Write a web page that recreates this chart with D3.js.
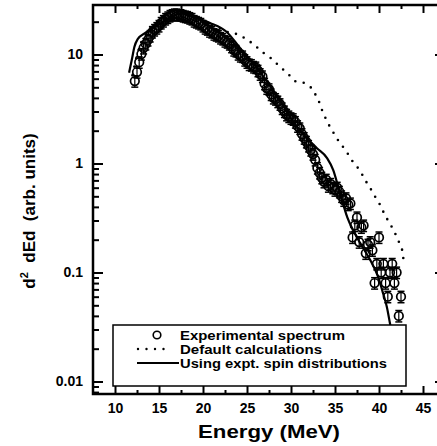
<!DOCTYPE html>
<html>
<head>
<meta charset="utf-8">
<script src="https://cdn.jsdelivr.net/npm/d3@7/dist/d3.min.js"></script>
<style>
  body { margin: 0; background: #fff; }
  text { font-family: "Liberation Sans", Arial, sans-serif; font-weight: bold; fill: #000; }
</style>
</head>
<body>
<div id="chart"></div>
<script>
// experimental spectrum (energy in MeV, yield in arb. units)
const expE = [
  12.25, 12.5, 12.75, 13, 13.25, 13.5, 13.75, 14, 14.25, 14.5, 14.75, 15,
  15.25, 15.5, 15.75, 16, 16.25, 16.5, 16.75, 17, 17.25, 17.5, 17.75, 18,
  18.25, 18.5, 18.75, 19, 19.25, 19.5, 19.75, 20, 20.25, 20.5, 20.75, 21,
  21.25, 21.5, 21.75, 22, 22.25, 22.5, 22.75, 23, 23.25, 23.5, 23.75, 24,
  24.25, 24.5, 24.75, 25, 25.25, 25.5, 25.75, 26, 26.25, 26.5, 26.75, 27,
  27.25, 27.5, 27.75, 28, 28.25, 28.5, 28.75, 29, 29.25, 29.5, 29.75, 30,
  30.25, 30.5, 30.75, 31, 31.25, 31.5, 31.75, 32, 32.25, 32.5, 32.75, 33,
  33.25, 33.5, 33.75, 34, 34.25, 34.5, 34.75, 35, 35.25, 35.5, 35.75, 36,
  36.25, 36.5, 36.75, 37, 37.25, 37.5, 37.75, 38, 38.25, 38.5, 38.75, 39,
  39.25, 39.5, 39.75, 40, 40.25, 40.5, 40.75, 41, 41.25, 41.5, 41.75, 42,
  42.25, 42.5
];
const expV = [
  5.7, 6.9, 8.5, 10.1, 11.5, 12.5, 13.6, 14.8, 16.1, 16.8, 17.5, 18.3,
  19.5, 20.3, 21.2, 21.9, 22.6, 23.0, 23.3, 23.3, 23.0, 23.0, 22.6, 22.3,
  22.1, 21.6, 21.2, 20.3, 19.9, 19.5, 19.1, 18.3, 17.5, 17.1, 16.4, 16.1,
  15.4, 15.1, 14.8, 14.2, 13.9, 13.3, 13.0, 12.5, 11.8, 11.0, 10.8, 10.1,
  9.7, 9.6, 8.9, 8.5, 8.1, 8.0, 7.7, 7.6, 7.1, 6.6, 6.3, 5.4,
  4.9, 4.8, 4.3, 4.0, 3.9, 3.7, 3.5, 3.2, 3.0, 2.8, 2.7, 2.6,
  2.55, 2.4, 2.2, 2.1, 1.86, 1.71, 1.58, 1.45, 1.33, 1.22, 1.08, 0.91,
  0.82, 0.74, 0.68, 0.71, 0.62, 0.65, 0.60, 0.57, 0.60, 0.55, 0.50, 0.46,
  0.48, 0.42, 0.43, 0.21, 0.27, 0.32, 0.19, 0.26, 0.27, 0.15, 0.18, 0.19,
  0.16, 0.08, 0.12, 0.21, 0.10, 0.12, 0.08, 0.06, 0.10, 0.12, 0.08, 0.10,
  0.04, 0.06
];
const expErr = 0.12; // relative error shown on each point

// default calculations
const defE = [12, 12.5, 13, 14, 15, 16, 17, 18, 19, 20, 21, 22, 22.73, 23.86, 24.94,
  25.85, 26.76, 27.84, 28.75, 29.55, 30.45, 31.48, 32.39, 32.84, 33.18, 33.52, 33.86,
  34.32, 34.77, 35.34, 35.91, 36.48, 37.05, 37.61, 38.18, 38.64, 39.2, 39.66, 40.11,
  40.57, 41.02, 41.48, 41.93, 42.27, 42.61, 42.73, 42.95];
const defV = [6.5, 10, 13, 17.5, 20.5, 22.5, 23.5, 23.5, 22.5, 20.5, 18.8, 17.2, 16.1, 15.4, 13.9,
  12.2, 10.5, 9.1, 7.7, 6.8, 5.7, 5.5, 4.9, 4.2, 3.7, 3.1, 2.67,
  2.25, 1.95, 1.64, 1.42, 1.22, 1.03, 0.91, 0.77, 0.66, 0.56, 0.48, 0.42,
  0.35, 0.30, 0.26, 0.22, 0.19, 0.164, 0.139, 0.117];

// using experimental spin distributions
const spinE = [11.6, 11.95, 12.2, 12.6, 13.4, 14.3, 15.3, 16.5, 17.4, 18.3, 18.9, 20.8, 22.7,
  24.2, 25.7, 27.3, 28.75, 30.0, 31.4, 32.95, 34.1, 34.8, 35.3, 35.8, 36.4, 37.05, 37.85,
  39.0, 39.9, 40.45, 40.9, 41.25, 41.6];
const spinV = [6.8, 9.3, 11.7, 13.9, 15.7, 17.5, 19.5, 22.1, 24.0, 23.0, 22.1, 19.5, 16.1,
  11.5, 8.3, 5.6, 3.8, 2.6, 1.85, 1.38, 1.12, 0.87, 0.64, 0.46, 0.32, 0.245, 0.187,
  0.13, 0.091, 0.065, 0.048, 0.034, 0.024];

const xMajor = [10, 15, 20, 25, 30, 35, 40, 45];
const xMinor = [12.5, 17.5, 22.5, 27.5, 32.5, 37.5, 42.5];
const yMajor = [0.01, 0.1, 1, 10];
const yLabels = ["0.01", "0.1", "1", "10"];
const legendLabels = ["Experimental spectrum", "Default calculations", "Using expt. spin distributions"];

const W = 437, H = 446;
const box = { left: 93, right: 445, top: 5, bottom: 394 };

const svg = d3.select("#chart").append("svg")
  .attr("width", W).attr("height", H);

const x = d3.scaleLinear().domain([7.5, 47.5]).range([box.left, box.right]);
const y = d3.scaleLog().domain([0.00768, 28.45]).range([box.bottom, box.top]);

const yMinor = [];
[0.001, 0.01, 0.1, 1, 10].forEach(d => {
  for (let k = 2; k <= 9; k++) {
    const v = d * k;
    if (v > y.domain()[0] && v < y.domain()[1]) yMinor.push(v);
  }
});

function styleAxis(g) {
  g.select(".domain").remove();
  g.selectAll(".tick line").attr("stroke", "#000").attr("stroke-width", 2);
  g.selectAll(".tick text").style("font-size", "14px").style("font-weight", "bold")
    .style("font-family", '"Liberation Sans", Arial, sans-serif');
}

// bottom axis
svg.append("g").attr("transform", `translate(0,${box.bottom})`)
  .call(d3.axisBottom(x).tickValues(xMajor).tickSize(-8).tickPadding(9).tickFormat(d3.format("d")))
  .call(styleAxis);
svg.append("g").attr("transform", `translate(0,${box.bottom})`)
  .call(d3.axisBottom(x).tickValues(xMinor).tickSize(-4).tickFormat(""))
  .call(styleAxis);
// top axis
svg.append("g").attr("transform", `translate(0,${box.top})`)
  .call(d3.axisTop(x).tickValues(xMajor).tickSize(-8).tickFormat(""))
  .call(styleAxis);
svg.append("g").attr("transform", `translate(0,${box.top})`)
  .call(d3.axisTop(x).tickValues(xMinor).tickSize(-4).tickFormat(""))
  .call(styleAxis);
// left axis
svg.append("g").attr("transform", `translate(${box.left},0)`)
  .call(d3.axisLeft(y).tickValues(yMajor).tickSize(-10).tickPadding(10)
    .tickFormat((d, i) => yLabels[i]))
  .call(styleAxis);
svg.append("g").attr("transform", `translate(${box.left},0)`)
  .call(d3.axisLeft(y).tickValues(yMinor).tickSize(-6).tickFormat(""))
  .call(styleAxis);
// right axis
svg.append("g").attr("transform", `translate(${box.right},0)`)
  .call(d3.axisRight(y).tickValues(yMajor).tickSize(-10).tickFormat(""))
  .call(styleAxis);
svg.append("g").attr("transform", `translate(${box.right},0)`)
  .call(d3.axisRight(y).tickValues(yMinor).tickSize(-6).tickFormat(""))
  .call(styleAxis);

// frame
svg.append("rect")
  .attr("x", box.left).attr("y", box.top)
  .attr("width", box.right - box.left).attr("height", box.bottom - box.top)
  .attr("fill", "none").attr("stroke", "#000").attr("stroke-width", 2.5);

const line = d3.line().x(d => x(d[0])).y(d => y(d[1]));

// default calculations (dotted)
svg.append("path")
  .datum(defE.map((e, i) => [e, defV[i]]))
  .attr("d", line)
  .attr("fill", "none").attr("stroke", "#000").attr("stroke-width", 2.6)
  .attr("stroke-linecap", "round").attr("stroke-dasharray", "0,8.5");

// experimental points with error bars
const pts = svg.append("g");
expE.forEach((e, i) => {
  const cx = x(e), v = expV[i];
  const y0 = y(v * (1 - expErr)), y1 = y(v * (1 + expErr));
  pts.append("line").attr("x1", cx).attr("x2", cx).attr("y1", y0).attr("y2", y1)
    .attr("stroke", "#000").attr("stroke-width", 1.2);
  [y0, y1].forEach(yy => pts.append("line")
    .attr("x1", cx - 3.5).attr("x2", cx + 3.5).attr("y1", yy).attr("y2", yy)
    .attr("stroke", "#000").attr("stroke-width", 1.5));
});
pts.selectAll("circle")
  .data(expE.map((e, i) => [e, expV[i]]))
  .join("circle")
  .attr("cx", d => x(d[0])).attr("cy", d => y(d[1])).attr("r", 4.3)
  .attr("fill", "none").attr("stroke", "#000").attr("stroke-width", 1.7);

// expt. spin distributions (solid)
svg.append("path")
  .datum(spinE.map((e, i) => [e, spinV[i]]))
  .attr("d", line.curve(d3.curveMonotoneX))
  .attr("fill", "none").attr("stroke", "#000").attr("stroke-width", 2.2);

// legend
const lg = svg.append("g");
lg.append("rect").attr("x", 113).attr("y", 325).attr("width", 293).attr("height", 61)
  .attr("fill", "#fff").attr("stroke", "#000").attr("stroke-width", 1.5);
lg.append("circle").attr("cx", 157).attr("cy", 335).attr("r", 3.8)
  .attr("fill", "none").attr("stroke", "#000").attr("stroke-width", 1.6);
lg.append("line").attr("x1", 138).attr("x2", 172).attr("y1", 349).attr("y2", 349)
  .attr("stroke", "#000").attr("stroke-width", 2.4).attr("stroke-linecap", "round")
  .attr("stroke-dasharray", "0,8.5");
lg.append("line").attr("x1", 137).attr("x2", 179).attr("y1", 363).attr("y2", 363)
  .attr("stroke", "#000").attr("stroke-width", 2);
const legendLen = [165, 142, 207];
legendLabels.forEach((t, i) => {
  lg.append("text").attr("x", 180).attr("y", 339.5 + i * 14)
    .attr("textLength", legendLen[i]).attr("lengthAdjust", "spacingAndGlyphs")
    .style("font-size", "13px").text(t);
});

// axis titles
svg.append("text").attr("x", 269).attr("y", 438).attr("text-anchor", "middle")
  .attr("textLength", 142).attr("lengthAdjust", "spacingAndGlyphs")
  .style("font-size", "18px").text("Energy (MeV)");

const yt = svg.append("text")
  .attr("transform", "translate(35,211) rotate(-90)")
  .attr("text-anchor", "middle").style("font-size", "17px");
yt.append("tspan").text("d");
yt.append("tspan").attr("dy", -7).style("font-size", "11px").text("2");
yt.append("tspan").attr("dy", 7).text("\u00a0\u00a0dEd\u00a0\u00a0(arb. units)");
</script>
</body>
</html>
